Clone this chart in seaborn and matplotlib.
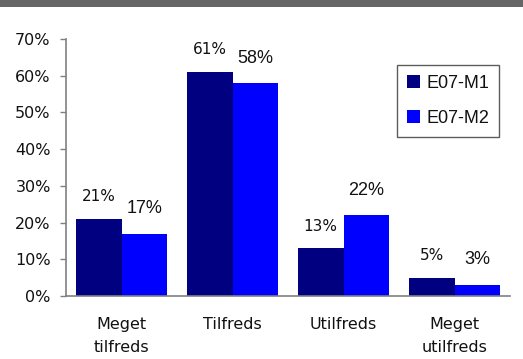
import matplotlib
matplotlib.use("Agg")
import matplotlib.pyplot as plt
import seaborn as sns
import pandas as pd
from matplotlib.patches import Rectangle

categories = ["Meget\ntilfreds", "Tilfreds", "Utilfreds", "Meget\nutilfreds"]
series_names = ["E07-M1", "E07-M2"]
m1_values = [21, 61, 13, 5]
m2_values = [17, 58, 22, 3]
colors = ["#000080", "#0000FF"]
y_ticks = [0, 10, 20, 30, 40, 50, 60, 70]

df = pd.DataFrame({
    "kategori": categories * 2,
    "hold": [series_names[0]] * 4 + [series_names[1]] * 4,
    "andel": m1_values + m2_values,
})

sns.set_style("white")
plt.rcParams["font.family"] = ["DejaVu Sans"]

fig = plt.figure(figsize=(5.23, 3.59), dpi=100)
fig.patch.set_facecolor("white")

# dark header band across the top
fig.patches.append(Rectangle((0, 1 - 7 / 359), 1, 7 / 359, transform=fig.transFigure,
                             facecolor="#666666", edgecolor="none", zorder=0))

ax = fig.add_axes([66 / 523, 63 / 359, 444 / 523, 257 / 359])
sns.barplot(data=df, x="kategori", y="andel", hue="hold", palette=colors,
            width=0.82, saturation=1, linewidth=0, ax=ax,
            order=categories, hue_order=series_names)

ax.set_ylim(0, 70)
ax.set_xlim(-0.5, 3.5)
ax.set_yticks(y_ticks)
ax.set_yticklabels([f"{t}%" for t in y_ticks], fontsize=11.5, color="#111111")
ax.set_xlabel("")
ax.set_ylabel("")
ax.tick_params(axis="y", length=4.5, width=1, color="#808080", pad=6.5, left=True)
ax.tick_params(axis="x", length=0, pad=15, labelsize=11.5, labelcolor="#111111")
for lbl in ax.get_xticklabels():
    lbl.set_linespacing(1.65)

for side in ["top", "right"]:
    ax.spines[side].set_visible(False)
for side in ["left", "bottom"]:
    ax.spines[side].set_color("#808080")
    ax.spines[side].set_linewidth(1.2)

# value labels above each bar
for container, offset, fs, fam in zip(ax.containers, [16, 18], [11, 13],
                                       ["DejaVu Sans", "Liberation Sans"]):
    for bar in container:
        h = bar.get_height()
        ax.annotate(f"{h:.0f}%", (bar.get_x() + bar.get_width() / 2, h),
                    xytext=(0, offset), textcoords="offset points",
                    ha="center", va="center", fontsize=fs, family=fam, color="#111111")

leg = ax.legend(loc="upper right", bbox_to_anchor=(433 / 444, 1 - 26 / 257),
                frameon=True, fancybox=False, shadow=False,
                prop={"family": "Liberation Sans", "size": 13},
                handlelength=0.72, handleheight=0.72, handletextpad=0.35,
                labelspacing=1.0, borderpad=0.55, borderaxespad=0)
leg.get_frame().set_edgecolor("#333333")
leg.get_frame().set_linewidth(1)
for t in leg.get_texts():
    t.set_color("#111111")

fig.savefig("out.png", dpi=100)
